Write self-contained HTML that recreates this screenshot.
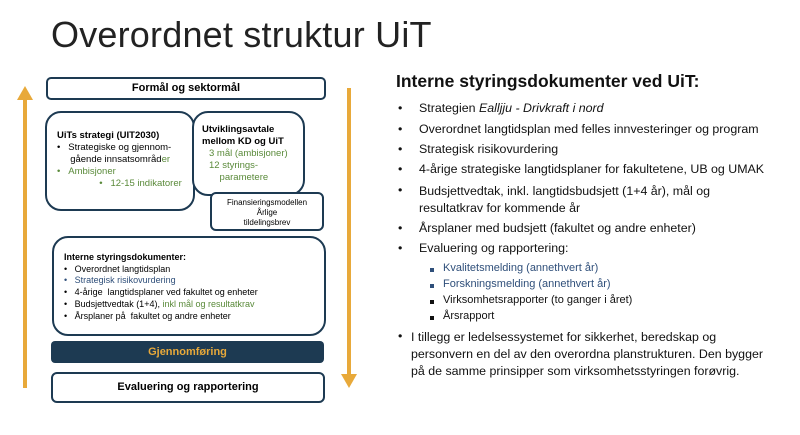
<!DOCTYPE html>
<html><head><meta charset="utf-8"><style>
body{margin:0;width:800px;height:435px;background:#fff;position:relative;overflow:hidden;font-family:"Liberation Sans",sans-serif;}
.a{position:absolute;white-space:nowrap;}
.box{position:absolute;border:2.5px solid #1d3a52;border-radius:14px;box-sizing:border-box;background:#fff;}
.g{color:#5a8a3a}.b{color:#2f4f7a}
.r{font-size:12.4px;color:#111;}
.dot{position:absolute;left:398px;font-size:12.4px;}
.sq{position:absolute;width:4px;height:4px;background:#2f4f7a;}
</style></head><body>
<div class="a" style="left:51px;top:14px;font-size:36px;color:#222;letter-spacing:0.2px;">Overordnet struktur UiT</div>

<div class="a" style="left:23px;top:98px;width:4px;height:290px;background:#e8a93a"></div>
<div class="a" style="left:17px;top:86px;width:0;height:0;border-left:8px solid transparent;border-right:8px solid transparent;border-bottom:14px solid #e8a93a"></div>
<div class="a" style="left:347px;top:88px;width:4px;height:288px;background:#e8a93a"></div>
<div class="a" style="left:341px;top:374px;width:0;height:0;border-left:8px solid transparent;border-right:8px solid transparent;border-top:14px solid #e8a93a"></div>

<div class="box" style="left:46px;top:77px;width:280px;height:23px;border-radius:5px;text-align:center;font-size:11px;font-weight:bold;line-height:18px;">Formål og sektormål</div>

<div class="box" style="left:45px;top:111px;width:150px;height:100px;border-radius:16px;"></div>
<div class="a" style="left:57px;top:130px;font-size:9.5px;line-height:12px;">
<b>UiTs strategi (UIT2030)</b><br>
&bull;&nbsp;&nbsp;&nbsp;Strategiske og gjennom-<br>
&nbsp;&nbsp;&nbsp;&nbsp;&nbsp;gående innsatsområd<span class="g">er</span><br>
<span class="g">&bull;&nbsp;&nbsp;&nbsp;Ambisjoner</span><br>
<span class="g">&nbsp;&nbsp;&nbsp;&nbsp;&nbsp;&nbsp;&nbsp;&nbsp;&nbsp;&nbsp;&nbsp;&nbsp;&nbsp;&nbsp;&nbsp;&nbsp;&bull;&nbsp;&nbsp;&nbsp;12-15 indikatorer</span>
</div>

<div class="box" style="left:192px;top:111px;width:113px;height:85px;border-radius:16px;"></div>
<div class="a" style="left:202px;top:124px;font-size:9.5px;line-height:12px;font-weight:bold;">Utviklingsavtale<br>mellom KD og UiT</div>
<div class="a g" style="left:209px;top:148px;font-size:9.5px;line-height:12px;">3 mål (ambisjoner)<br>12 styrings-<br>&nbsp;&nbsp;&nbsp;&nbsp;parametere</div>

<div class="box" style="left:210px;top:192px;width:114px;height:39px;border-radius:6px;text-align:center;font-size:8px;line-height:10px;padding-top:4px;">Finansieringsmodellen<br>Årlige<br>tildelingsbrev</div>

<div class="box" style="left:52px;top:236px;width:274px;height:100px;border-radius:16px;"></div>
<div class="a" style="left:64px;top:252px;font-size:9px;line-height:11.7px;">
<b>Interne styringsdokumenter:</b><br>
&bull;&nbsp;&nbsp;&nbsp;Overordnet langtidsplan<br>
<span class="b">&bull;&nbsp;&nbsp;&nbsp;Strategisk risikovurdering</span><br>
&bull;&nbsp;&nbsp;&nbsp;4-årige &nbsp;langtidsplaner ved fakultet og enheter<br>
&bull;&nbsp;&nbsp;&nbsp;Budsjettvedtak (1+4), <span class="g">inkl mål og resultatkrav</span><br>
&bull;&nbsp;&nbsp;&nbsp;Årsplaner på &nbsp;fakultet og andre enheter
</div>

<div class="a" style="left:51px;top:341px;width:273px;height:22px;background:#1d3a52;border-radius:4px;color:#e8a93a;font-size:11px;font-weight:bold;text-align:center;line-height:22px;">Gjennomføring</div>
<div class="box" style="left:51px;top:372px;width:274px;height:31px;border-radius:6px;text-align:center;font-size:11px;font-weight:bold;line-height:26px;">Evaluering og rapportering</div>

<div class="a" style="left:396px;top:71px;font-size:17.5px;font-weight:bold;color:#111;">Interne styringsdokumenter ved UiT:</div>
<div class="r">
<div class="dot a" style="top:101px">&bull;</div><div class="a" style="left:419px;top:101px">Strategien <i>Ealljju - Drivkraft i nord</i></div>
<div class="dot a" style="top:122px">&bull;</div><div class="a" style="left:419px;top:122px">Overordnet langtidsplan med felles innvesteringer og program</div>
<div class="dot a" style="top:142px">&bull;</div><div class="a" style="left:419px;top:142px">Strategisk risikovurdering</div>
<div class="dot a" style="top:162px">&bull;</div><div class="a" style="left:419px;top:162px">4-årige strategiske langtidsplaner for fakultetene, UB og UMAK</div>
<div class="dot a" style="top:183px">&bull;</div><div class="a" style="left:419px;top:183px;line-height:17px">Budsjettvedtak, inkl. langtidsbudsjett (1+4 år), mål og<br>resultatkrav for kommende år</div>
<div class="dot a" style="top:221px">&bull;</div><div class="a" style="left:419px;top:221px">Årsplaner med budsjett (fakultet og andre enheter)</div>
<div class="dot a" style="top:241px">&bull;</div><div class="a" style="left:419px;top:241px">Evaluering og rapportering:</div>
<div class="sq" style="left:430px;top:268px"></div><div class="a b" style="left:443px;top:262px;font-size:11px">Kvalitetsmelding (annethvert år)</div>
<div class="sq" style="left:430px;top:284px"></div><div class="a b" style="left:443px;top:278px;font-size:11px">Forskningsmelding (annethvert år)</div>
<div class="sq" style="left:430px;top:300px;background:#111"></div><div class="a" style="left:443px;top:294px;font-size:11px">Virksomhetsrapporter (to ganger i året)</div>
<div class="sq" style="left:430px;top:316px;background:#111"></div><div class="a" style="left:443px;top:310px;font-size:11px">Årsrapport</div>
<div class="dot a" style="top:329px">&bull;</div><div class="a" style="left:411px;top:329px;line-height:17px">I tillegg er ledelsessystemet for sikkerhet, beredskap og<br>personvern en del av den overordna planstrukturen. Den bygger<br>på de samme prinsipper som virksomhetsstyringen forøvrig.</div>
</div>
</body></html>
